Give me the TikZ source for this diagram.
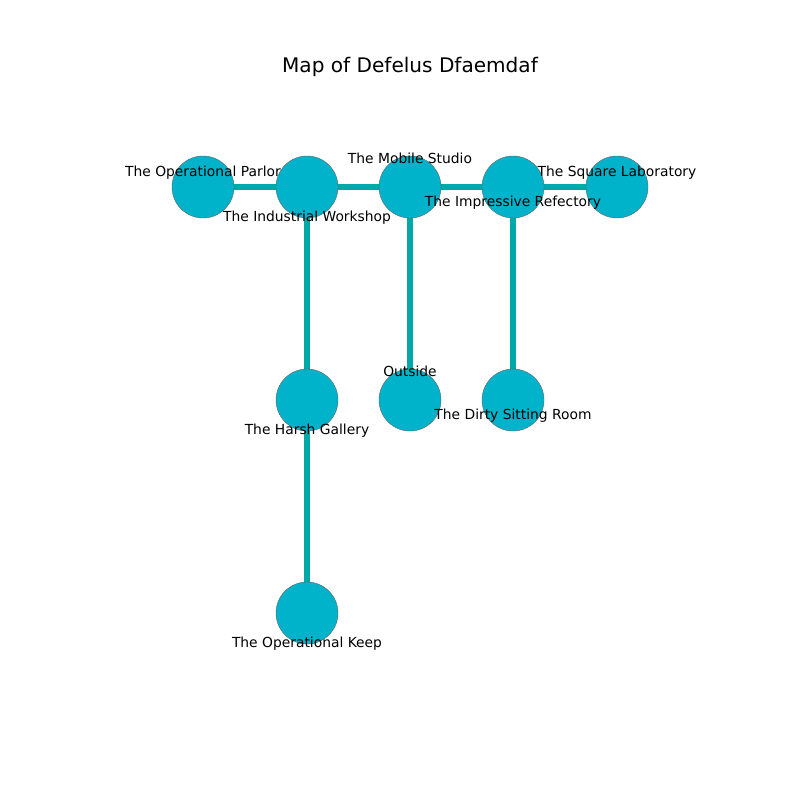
\documentclass[tikz,border=0pt]{standalone}
\usepackage{fontspec}
\setmainfont{DejaVu Sans}
\usepackage{tikz}
\usetikzlibrary{backgrounds}

\definecolor{roomfill}{HTML}{00B3CB}
\definecolor{pathcol}{HTML}{00A8A8}

\begin{document}
\begin{tikzpicture}[x=0.01in,y=-0.01in,thick]
\tikzstyle{room}=[circle,draw=gray!80!black,line width=0.3pt,fill=roomfill,minimum size=0.62in,inner sep=0pt]
\tikzstyle{lbl}=[font=\fontsize{10}{12}\selectfont,inner sep=0pt]
\tikzstyle{passage}=[draw=pathcol,line width=3.9pt]
\useasboundingbox (0,0) rectangle (800,800);
\node[font=\fontsize{14.5}{17}\selectfont] (title) at (410,67) {Map of Defelus Dfaemdaf};
% rooms
\node[room] (parlor) at (203,187) {};
\node[room] (workshop) at (307,187) {};
\node[room] (studio) at (410,187) {};
\node[room] (refectory) at (513,187) {};
\node[room] (lab) at (617,187) {};
\node[room] (gallery) at (307,400) {};
\node[room] (outside) at (410,400) {};
\node[room] (sitting) at (513,400) {};
\node[room] (keep) at (307,613) {};
% passages
\begin{pgfonlayer}{background}
\draw[passage] (parlor) -- (workshop);
\draw[passage] (workshop) -- (studio);
\draw[passage] (studio) -- (refectory);
\draw[passage] (refectory) -- (lab);
\draw[passage] (workshop) -- (gallery);
\draw[passage] (gallery) -- (keep);
\draw[passage] (studio) -- (outside);
\draw[passage] (refectory) -- (sitting);
\end{pgfonlayer}
% labels
\node[lbl] (parlorlbl) at (203,173) {The Operational Parlor};
\node[lbl] (workshoplbl) at (307,218) {The Industrial Workshop};
\node[lbl] (studiolbl) at (410,158) {The Mobile Studio};
\node[lbl] (refectorylbl) at (513,203) {The Impressive Refectory};
\node[lbl] (lablbl) at (617,173) {The Square Laboratory};
\node[lbl] (gallerylbl) at (307,431) {The Harsh Gallery};
\node[lbl] (outsidelbl) at (410,371) {Outside};
\node[lbl] (sittinglbl) at (513,416) {The Dirty Sitting Room};
\node[lbl] (keeplbl) at (307,644) {The Operational Keep};
\end{tikzpicture}
\end{document}
